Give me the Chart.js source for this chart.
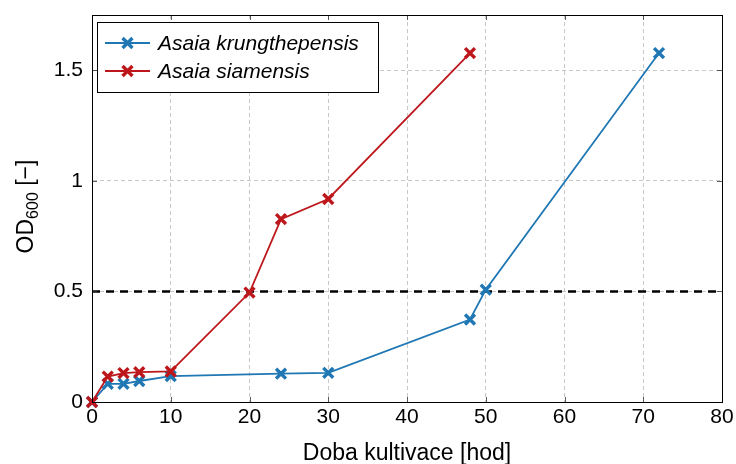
<!DOCTYPE html>
<html>
<head>
<meta charset="utf-8">
<script src="https://cdn.jsdelivr.net/npm/chart.js@4.4.1/dist/chart.umd.min.js"></script>
<style>
  html, body { margin: 0; padding: 0; background: #fff; }
  #wrap { width: 736px; height: 464px; }
</style>
</head>
<body>
<div id="wrap"><canvas id="c" width="736" height="464"></canvas></div>
<script>
// Cultivation time [h] and optical density OD600 for the two strains
const krungHours = [0, 2, 4, 6, 10, 24, 30, 48, 50, 72];
const krungOD    = [0, 0.082, 0.082, 0.095, 0.117, 0.128, 0.132, 0.373, 0.508, 1.578];

const siamHours  = [0, 2, 4, 6, 10, 20, 24, 30, 48];
const siamOD     = [0, 0.115, 0.131, 0.135, 0.138, 0.495, 0.827, 0.918, 1.578];

// Reference level drawn as a dashed horizontal line
const thresholdOD = 0.5;
const thresholdSpan = [0, 80];

// Axis ticks
const xTicks = [0, 10, 20, 30, 40, 50, 60, 70, 80];
const yTicks = [0, 0.5, 1, 1.5];

const seriesNames = ['Asaia krungthepensis', 'Asaia siamensis'];
const BLUE = '#1f77b4';
const RED = '#bd171c';
const FONT = '"Liberation Sans", Arial, sans-serif';
const MARK_R = 7;
const MARK_W = 3.4;

const toPoints = (xs, ys) => xs.map((x, i) => ({ x: x, y: ys[i] }));

function drawCross(ctx, x, y, r, color) {
  const d = r * Math.SQRT1_2;
  ctx.save();
  ctx.strokeStyle = color;
  ctx.lineWidth = MARK_W;
  ctx.beginPath();
  ctx.moveTo(x - d, y - d); ctx.lineTo(x + d, y + d);
  ctx.moveTo(x - d, y + d); ctx.lineTo(x + d, y - d);
  ctx.stroke();
  ctx.restore();
}

// Frame, inward tick marks, axis titles and the inset legend
const decorations = {
  id: 'decorations',
  afterDraw(chart) {
    const { ctx, chartArea: a, scales } = chart;
    ctx.save();

    // inward tick marks on all four sides
    ctx.strokeStyle = '#333';
    ctx.lineWidth = 0.8;
    ctx.beginPath();
    xTicks.forEach(v => {
      const px = Math.round(scales.x.getPixelForValue(v)) + 0.5;
      ctx.moveTo(px, a.bottom); ctx.lineTo(px, a.bottom - 5);
      ctx.moveTo(px, a.top); ctx.lineTo(px, a.top + 5);
    });
    yTicks.forEach(v => {
      const py = Math.round(scales.y.getPixelForValue(v)) + 0.5;
      ctx.moveTo(a.left, py); ctx.lineTo(a.left + 5, py);
      ctx.moveTo(a.right, py); ctx.lineTo(a.right - 5, py);
    });
    ctx.stroke();

    // plot frame
    ctx.strokeStyle = '#000';
    ctx.lineWidth = 1;
    ctx.strokeRect(Math.round(a.left) + 0.5, Math.round(a.top) + 0.5,
                   Math.round(a.right - a.left), Math.round(a.bottom - a.top));

    // x axis title
    ctx.fillStyle = '#000';
    ctx.font = '23px ' + FONT;
    ctx.textAlign = 'center';
    ctx.textBaseline = 'alphabetic';
    ctx.fillText('Doba kultivace [hod]', (a.left + a.right) / 2, 460);

    // y axis title: OD with subscript 600, rotated
    ctx.save();
    ctx.translate(33, (a.top + a.bottom) / 2 - 2);
    ctx.rotate(-Math.PI / 2);
    const big = '23px ' + FONT, small = '16px ' + FONT;
    ctx.font = big; const w1 = ctx.measureText('OD').width;
    ctx.font = small; const w2 = ctx.measureText('600').width;
    ctx.font = big; const w3 = ctx.measureText(' [\u2212]').width;
    const x0 = -(w1 + w2 + w3) / 2;
    ctx.textAlign = 'left';
    ctx.font = big; ctx.fillText('OD', x0, 0);
    ctx.font = small; ctx.fillText('600', x0 + w1, 5);
    ctx.font = big; ctx.fillText(' [\u2212]', x0 + w1 + w2, 0);
    ctx.restore();

    // legend box
    const lx = 97.5, ly = 22.5, lw = 281, lh = 70;
    ctx.fillStyle = '#fff';
    ctx.fillRect(lx, ly, lw, lh);
    ctx.strokeStyle = '#000';
    ctx.lineWidth = 1;
    ctx.strokeRect(lx, ly, lw, lh);
    const rows = [
      { name: seriesNames[0], color: BLUE, y: 43 },
      { name: seriesNames[1], color: RED, y: 71 }
    ];
    rows.forEach(r => {
      ctx.strokeStyle = r.color;
      ctx.lineWidth = 1.8;
      ctx.beginPath();
      ctx.moveTo(105, r.y); ctx.lineTo(150, r.y);
      ctx.stroke();
      drawCross(ctx, 127.5, r.y, MARK_R, r.color);
      ctx.fillStyle = '#000';
      ctx.font = 'italic 21px ' + FONT;
      ctx.textAlign = 'left';
      ctx.textBaseline = 'middle';
      ctx.fillText(r.name, 158, r.y + 1);
    });

    ctx.restore();
  }
};

new Chart(document.getElementById('c'), {
  type: 'line',
  data: {
    datasets: [
      {
        label: seriesNames[1],
        data: toPoints(siamHours, siamOD),
        borderColor: RED,
        backgroundColor: RED,
        borderWidth: 1.8,
        pointStyle: 'crossRot',
        pointRadius: MARK_R,
        pointBorderWidth: MARK_W,
        pointBorderColor: RED,
        tension: 0,
        order: 0
      },
      {
        label: seriesNames[0],
        data: toPoints(krungHours, krungOD),
        borderColor: BLUE,
        backgroundColor: BLUE,
        borderWidth: 1.8,
        pointStyle: 'crossRot',
        pointRadius: MARK_R,
        pointBorderWidth: MARK_W,
        pointBorderColor: BLUE,
        tension: 0,
        order: 1
      },
      {
        label: 'threshold',
        data: thresholdSpan.map(x => ({ x: x, y: thresholdOD })),
        borderColor: '#000',
        borderWidth: 2.5,
        borderDash: [8, 6],
        pointRadius: 0,
        tension: 0,
        order: 2
      }
    ]
  },
  options: {
    responsive: false,
    devicePixelRatio: 1,
    animation: false,
    clip: false,
    layout: { padding: { left: 0, top: 15, right: 14, bottom: 0 } },
    plugins: {
      legend: { display: false },
      tooltip: { enabled: false }
    },
    scales: {
      x: {
        type: 'linear',
        min: 0,
        max: 80,
        afterFit(s) { s.height = 62; s.paddingLeft = 0; s.paddingRight = 0; },
        afterBuildTicks(s) { s.ticks = xTicks.map(v => ({ value: v })); },
        ticks: {
          color: '#000',
          font: { family: FONT, size: 21 },
          padding: 3,
          maxRotation: 0,
          callback: v => String(v)
        },
        grid: { color: '#c8c8c8', lineWidth: 1, drawTicks: false },
        border: { display: true, color: '#000', width: 1, dash: [4, 3] }
      },
      y: {
        type: 'linear',
        min: 0,
        max: 1.75,
        afterFit(s) { s.width = 92; s.paddingTop = 0; s.paddingBottom = 0; },
        afterBuildTicks(s) { s.ticks = yTicks.map(v => ({ value: v })); },
        ticks: {
          color: '#000',
          font: { family: FONT, size: 21 },
          padding: 9,
          callback: v => String(v)
        },
        grid: { color: '#c8c8c8', lineWidth: 1, drawTicks: false },
        border: { display: true, color: '#000', width: 1, dash: [4, 3] }
      }
    }
  },
  plugins: [decorations]
});
</script>
</body>
</html>
